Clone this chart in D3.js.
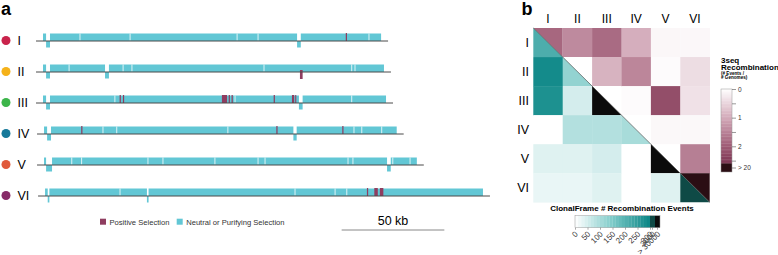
<!DOCTYPE html>
<html>
<head>
<meta charset="utf-8">
<script src="https://cdn.jsdelivr.net/npm/d3@7"></script>
<style>
  body { margin: 0; background: #fff; }
  svg { font-family: "Liberation Sans", Arial, Helvetica, sans-serif; }
</style>
</head>
<body>
<svg id="fig" width="778" height="255"></svg>
<script>
// ---- panel a data (positions in kb) ----
var genomes = ["I", "II", "III", "IV", "V", "VI"]
var genomeColors = ["#c9234b", "#f5b21a", "#3cb54a", "#16799a", "#e05a3c", "#872b68"]
var genomeStart = [0, 0, 0, 0.5, 0.5, 1]
var genomeEnd = [164.6, 166, 167, 172.2, 182, 214.2]
var lineExt = 3.4
// genes on reverse strand (drawn under the line)
var reverseGenes = [
  [[1.5, 3.4], [123.7, 125.5]],
  [[1.5, 3.4], [30.2, 32.1]],
  [[1.5, 3.4], [124.6, 126.4]],
  [[2, 3.9], [121.9, 123.5]],
  [[1.5, 4.4], [167.5, 169.3]],
  [[2.3, 3.1], [50.6, 51.4]]
]
// small white gaps between neighbouring genes
var geneBreaks = [
  [18, 42.4, 94.5, 104.7, 158.7],
  [12.7, 39, 43.3, 107.6, 150.3, 151.9],
  [35, 93.5, 150.3],
  [29.2, 35.9, 90, 151.4, 155.2, 164.9],
  [14, 18.8, 51.1, 58.4, 83.7, 104.7, 108.1, 148.5, 150.9, 170.3, 178.7],
  [37.5, 122.7, 142.2, 147.9]
]
// genes under positive selection [start, end, strand]
var positiveGenes = [
  [[147.4, 148, "+"]],
  [[125.1, 126.4, "-"]],
  [[37.3, 37.9, "+"], [38.9, 39.5, "+"], [87.1, 89.6, "+"], [90.4, 91, "+"], [91.8, 92.4, "+"],
   [112.3, 112.9, "+"], [121.2, 122.3, "+"], [122.8, 123.3, "+"]],
  [[18.6, 19.2, "+"], [113.6, 114.2, "+"], [145.7, 146.3, "+"]],
  [],
  [[157.7, 158.3, "+"], [161.3, 163, "+"], [164, 165.7, "+"]]
]
var scaleBarKb = [145.4, 195.4]
var legendItems = ["Positive Selection", "Neutral or Purifying Selection"]

// ---- panel b data ----
// 3seq recombination (# events / # genomes), upper triangle, null = none
var seqRec = [
  [1.85, 1.4, 1.8, 0.95, 0.1, 0.09],
  [null, null, 0.9, 1.45, 0.05, 0.4],
  [null, null, null, 0.05, 2.2, 0.35],
  [null, null, null, null, 0.08, 0.08],
  [null, null, null, null, null, 1.55],
  [null, null, null, null, null, 25]
]
// ClonalFrame # recombination events, lower triangle
var clonalRec = [
  [210, null, null, null, null, null],
  [290, 120, null, null, null, null],
  [275, 52, 50000, null, null, null],
  [0, 90, 90, 100, null, null],
  [38, 38, 52, 0, 50000, null],
  [20, 20, 35, 0, 42, 5000]
]
var seqTicks = [0, 0.5, 1, 1.5, 2, 2.5]
var clonalTicks = [0, 50, 100, 150, 200, 250, 300]
var clonalExtraTicks = ["3000", "> 30000"]

var svg = d3.select("#fig")
var purple = "#8f3d60", cyan = "#62c7d5"

// ================= panel a =================
var x = d3.scaleLinear().domain([0, 50]).range([43, 145.7])
var y = d3.scalePoint().domain(genomes).range([41, 196])
var barH = 7.5, revH = 6.5

svg.append("text").attr("x", 1).attr("y", 15)
  .attr("font-size", 18).attr("font-weight", "bold").text("a")

genomes.forEach((g, i) => {
  var by = y(g)
  var row = svg.append("g").attr("class", "genome g" + g)

  row.append("circle").attr("cx", 6).attr("cy", by - 0.5).attr("r", 4.5)
    .attr("fill", genomeColors[i])
  row.append("text").attr("x", 17.5).attr("y", by + 3.8)
    .attr("font-size", 12.5).text(g)

  // forward strand segments: full length minus reverse genes
  var cuts = reverseGenes[i].slice().sort((a, b) => a[0] - b[0])
  var segs = [], pos = genomeStart[i]
  cuts.forEach(c => { segs.push([pos, c[0]]); pos = c[1] })
  segs.push([pos, genomeEnd[i]])
  row.selectAll("rect.fwd").data(segs).enter().append("rect")
    .attr("class", "fwd")
    .attr("x", d => x(d[0]))
    .attr("y", by - barH)
    .attr("width", d => Math.max(0, x(d[1]) - x(d[0])))
    .attr("height", barH)
    .attr("fill", cyan)

  row.selectAll("rect.rev").data(reverseGenes[i]).enter().append("rect")
    .attr("class", "rev")
    .attr("x", d => x(d[0]))
    .attr("y", by)
    .attr("width", d => x(d[1]) - x(d[0]))
    .attr("height", revH)
    .attr("fill", cyan)

  row.selectAll("line.brk").data(geneBreaks[i]).enter().append("line")
    .attr("class", "brk")
    .attr("x1", d => x(d)).attr("x2", d => x(d))
    .attr("y1", by - barH).attr("y2", by - 0.5)
    .attr("stroke", "#fff").attr("stroke-width", 0.8)

  row.selectAll("rect.pos").data(positiveGenes[i]).enter().append("rect")
    .attr("class", "pos")
    .attr("x", d => x(d[0]))
    .attr("y", d => d[2] == "+" ? by - barH - 0.5 : by - 2)
    .attr("width", d => x(d[1]) - x(d[0]))
    .attr("height", d => d[2] == "+" ? barH + 0.5 : revH + 2.5)
    .attr("fill", purple)

  row.append("line")
    .attr("x1", x(genomeStart[i] - lineExt)).attr("x2", x(genomeEnd[i] + lineExt))
    .attr("y1", by).attr("y2", by)
    .attr("stroke", "#4a4a4a").attr("stroke-width", 1)
})

// legend
var leg = svg.append("g").attr("font-size", 7.6).attr("fill", "#333")
var legX = [100, 176.7]
legendItems.forEach((t, i) => {
  leg.append("rect").attr("x", legX[i]).attr("y", 218.7).attr("width", 6).attr("height", 6)
    .attr("fill", i == 0 ? purple : cyan)
  leg.append("text").attr("x", legX[i] + 9.5).attr("y", 224.6).text(t)
})

// scale bar
svg.append("line")
  .attr("x1", x(scaleBarKb[0])).attr("x2", x(scaleBarKb[1]))
  .attr("y1", 230).attr("y2", 230)
  .attr("stroke", "#888").attr("stroke-width", 1)
svg.append("text").attr("x", (x(scaleBarKb[0]) + x(scaleBarKb[1])) / 2).attr("y", 225)
  .attr("text-anchor", "middle").attr("font-size", 12.5).text("50 kb")

// ================= panel b =================
var hx = d3.scaleBand().domain(genomes).range([533.3, 709.7])
var hy = d3.scaleBand().domain(genomes).range([28, 202.3])
var bw = hx.bandwidth(), bh = hy.bandwidth()

var seqColor = d3.scaleLinear().domain([0, 1, 2, 2.6])
  .range(["#ffffff", "#d3aab9", "#9f5b75", "#7a3350"]).clamp(true)
var seqHigh = "#2b0e14"
function seqFill(v) {
  if (v == null) return "#fff"
  return v > 20 ? seqHigh : seqColor(v)
}
var tealColor = d3.scaleLinear().domain([0, 150, 300])
  .range(["#ffffff", "#7dcac8", "#0a8585"]).clamp(true)
function clonalFill(v) {
  if (v == null) return "#fff"
  if (v > 30000) return "#0b0b0b"
  if (v > 300) return "#0f4a46"
  return tealColor(Math.min(300, Math.round(v / 12.5) * 12.5))
}

svg.append("text").attr("x", 521.5).attr("y", 15)
  .attr("font-size", 18).attr("font-weight", "bold").text("b")

var hm = svg.append("g").attr("class", "heatmap")
var cells = []
genomes.forEach((r, i) => genomes.forEach((c, j) => cells.push({ r: r, c: c, i: i, j: j })))

cells.forEach(d => {
  var x0 = hx(d.c), y0 = hy(d.r)
  if (d.i == d.j) {
    hm.append("path")
      .attr("d", "M" + x0 + "," + y0 + "L" + (x0 + bw) + "," + y0 + "L" + (x0 + bw) + "," + (y0 + bh) + "Z")
      .attr("fill", seqFill(seqRec[d.i][d.j]))
    hm.append("path")
      .attr("d", "M" + x0 + "," + y0 + "L" + x0 + "," + (y0 + bh) + "L" + (x0 + bw) + "," + (y0 + bh) + "Z")
      .attr("fill", clonalFill(clonalRec[d.i][d.j]))
  } else {
    var v = d.j > d.i ? seqFill(seqRec[d.i][d.j]) : clonalFill(clonalRec[d.i][d.j])
    hm.append("rect").attr("x", x0).attr("y", y0)
      .attr("width", bw + 0.3).attr("height", bh + 0.3)
      .attr("fill", v)
  }
})

hm.append("line")
  .attr("x1", hx.range()[0]).attr("y1", hy.range()[0])
  .attr("x2", hx.range()[1]).attr("y2", hy.range()[1])
  .attr("stroke", "#555").attr("stroke-width", 0.7)

svg.selectAll("text.colLab").data(genomes).enter().append("text")
  .attr("class", "colLab")
  .attr("x", d => hx(d) + bw / 2).attr("y", 23)
  .attr("text-anchor", "middle").attr("font-size", 12).text(d => d)
svg.selectAll("text.rowLab").data(genomes).enter().append("text")
  .attr("class", "rowLab")
  .attr("x", 529).attr("y", d => hy(d) + bh / 2 + 4.3)
  .attr("text-anchor", "end").attr("font-size", 12.5).text(d => d)

// 3seq legend
var sl = svg.append("g").attr("class", "seqLegend")
sl.append("text").attr("x", 721).attr("y", 62.6).attr("font-size", 8).attr("font-weight", "bold").text("3seq")
sl.append("text").attr("x", 721).attr("y", 70.4).attr("font-size", 8).attr("font-weight", "bold").text("Recombination")
sl.append("text").attr("x", 721).attr("y", 75.2).attr("font-size", 4.6).attr("font-weight", "bold").text("(# Events /")
sl.append("text").attr("x", 721).attr("y", 79.4).attr("font-size", 4.6).attr("font-weight", "bold").text("# Genomes)")

var y3 = d3.scaleLinear().domain([0, 2.6]).range([89, 163.5])
var steps3 = d3.range(0, 2.6, 0.05)
sl.selectAll("rect.st").data(steps3).enter().append("rect")
  .attr("x", 721).attr("width", 11)
  .attr("y", d => y3(d)).attr("height", y3(0.05) - y3(0) + 0.3)
  .attr("fill", d => seqColor(d + 0.025))
sl.append("rect").attr("x", 721).attr("width", 11).attr("y", y3(2.6)).attr("height", 8.5).attr("fill", seqHigh)
sl.append("rect").attr("x", 721).attr("width", 11).attr("y", y3(0)).attr("height", y3(2.6) + 8.5 - y3(0))
  .attr("fill", "none").attr("stroke", "#999").attr("stroke-width", 0.5)
var ax3 = sl.append("g").attr("transform", "translate(732,0)")
  .call(d3.axisRight(y3).tickValues(seqTicks).tickSize(4).tickPadding(2)
    .tickFormat(d => Number.isInteger(d) ? d : ""))
ax3.select(".domain").remove()
ax3.selectAll("line").attr("stroke", "#555").attr("stroke-width", 0.6)
ax3.selectAll("text").attr("font-size", 6.5).attr("fill", "#333").attr("font-family", "Liberation Sans, Arial, sans-serif")
sl.append("line").attr("x1", 732).attr("x2", 736).attr("y1", 168).attr("y2", 168).attr("stroke", "#555").attr("stroke-width", 0.6)
sl.append("text").attr("x", 738).attr("y", 170.2).attr("font-size", 6.5).attr("fill", "#333").text("> 20")

// ClonalFrame legend
var cl = svg.append("g").attr("class", "clonalLegend")
cl.append("text").attr("x", 622).attr("y", 211.3).attr("text-anchor", "middle")
  .attr("font-size", 8).attr("font-weight", "bold").text("ClonalFrame # Recombination Events")
var cfx = d3.scaleLinear().domain([0, 300]).range([575, 650])
var stepsC = d3.range(0, 300, 12.5)
cl.selectAll("rect.st").data(stepsC).enter().append("rect")
  .attr("x", d => cfx(d)).attr("width", cfx(12.5) - cfx(0) + 0.2)
  .attr("y", 215.7).attr("height", 12)
  .attr("fill", d => tealColor(d + 6.25))
cl.append("rect").attr("x", cfx(300)).attr("width", 5).attr("y", 215.7).attr("height", 12).attr("fill", clonalFill(5000))
cl.append("rect").attr("x", cfx(300) + 5).attr("width", 5).attr("y", 215.7).attr("height", 12).attr("fill", clonalFill(50000))
cl.append("rect").attr("x", cfx(0)).attr("width", cfx(300) + 10 - cfx(0)).attr("y", 215.7).attr("height", 12)
  .attr("fill", "none").attr("stroke", "#999").attr("stroke-width", 0.5)
var axC = cl.append("g").attr("transform", "translate(0,227.7)")
  .call(d3.axisBottom(cfx).tickValues(clonalTicks).tickSize(2).tickFormat(""))
axC.select(".domain").remove()
axC.selectAll("line").attr("stroke", "#555").attr("stroke-width", 0.5)

// rotated tick labels
var cLabs = clonalTicks.map(v => [String(v), cfx(v)])
  .concat(clonalExtraTicks.map((t, k) => [t, cfx(300) + 2.5 + 5 * k]))
cl.selectAll("line.xt").data(cLabs.slice(clonalTicks.length)).enter().append("line")
  .attr("class", "xt")
  .attr("x1", d => d[1]).attr("x2", d => d[1]).attr("y1", 227.7).attr("y2", 229.7)
  .attr("stroke", "#555").attr("stroke-width", 0.5)
cl.selectAll("text.cl").data(cLabs).enter().append("text")
  .attr("class", "cl")
  .attr("font-size", 8).attr("fill", "#333").attr("text-anchor", "end")
  .attr("dy", "0.35em")
  .attr("transform", d => "translate(" + (d[1] + 1.5) + ",232.5) rotate(-45)")
  .text(d => d[0])
</script>
</body>
</html>
